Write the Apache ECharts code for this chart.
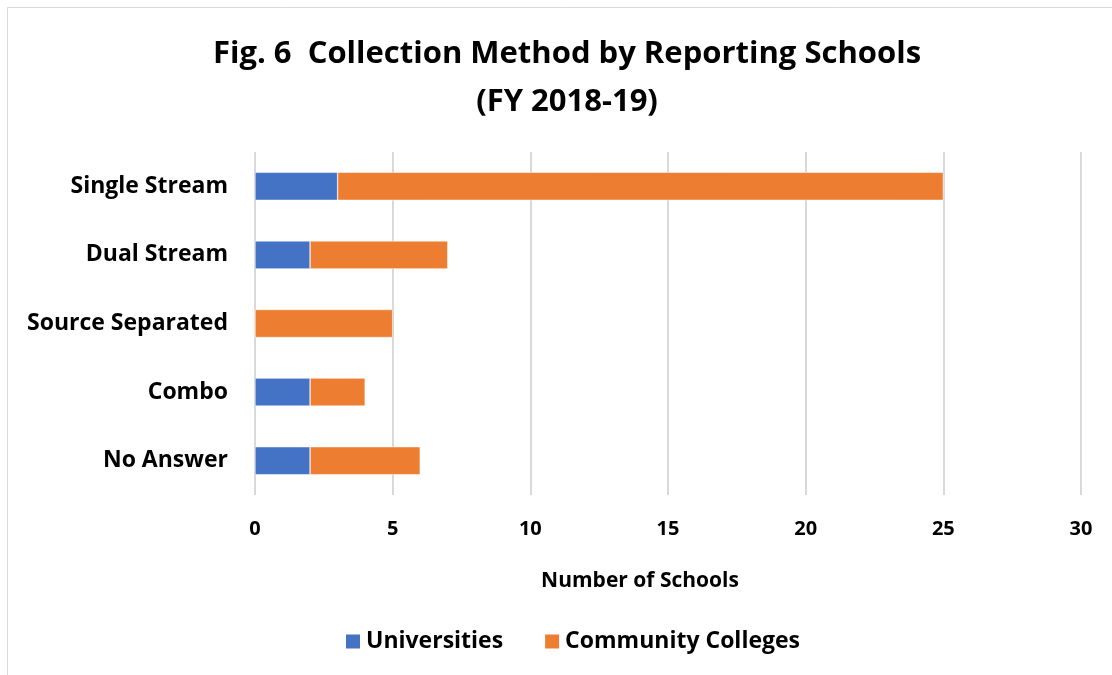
<!DOCTYPE html>
<html>
<head>
<meta charset="utf-8">
<script src="https://cdn.jsdelivr.net/npm/echarts@6/dist/echarts.min.js"></script>
<style>
    html, body { margin: 0; padding: 0; background: #fff; }
    #chart { width: 1112px; height: 675px; }
</style>
</head>
<body>
<div id="chart"></div>
<script>
    const categories = ['Single Stream', 'Dual Stream', 'Source Separated', 'Combo', 'No Answer'];
    const universities = [3, 2, 0, 2, 2];
    const communityColleges = [22, 5, 5, 2, 4];
    const xTicks = [0, 5, 10, 15, 20, 25, 30];

    const font = 'Open Sans';
    const myChart = echarts.init(document.getElementById('chart'));

    const option = {
        backgroundColor: '#fff',
        animation: false,
        title: {
            text: 'Fig. 6  Collection Method by Reporting Schools\n(FY 2018-19)',
            left: 562,
            top: 25,
            textAlign: 'center',
            textStyle: {
                fontFamily: font, fontWeight: 'bold', fontSize: 31,
                color: '#000', lineHeight: 48
            }
        },
        graphic: [{
            type: 'rect',
            shape: { x: 7.5, y: 7.5, width: 1200, height: 800 },
            style: { fill: 'none', stroke: '#d9d9d9', lineWidth: 1 },
            silent: true
        }],
        legend: {
            data: ['Universities', 'Community Colleges'],
            left: 339,
            top: 625,
            itemWidth: 16,
            itemHeight: 16,
            itemGap: 40,
            icon: 'rect',
            selectedMode: false,
            textStyle: { fontFamily: font, fontWeight: 'bold', fontSize: 23, color: '#000' }
        },
        grid: { left: 255, right: 31, top: 152, bottom: 180 },
        xAxis: {
            type: 'value',
            min: xTicks[0],
            max: xTicks[xTicks.length - 1],
            interval: 5,
            name: 'Number of Schools',
            nameLocation: 'middle',
            nameGap: 76,
            nameTextStyle: {
                fontFamily: font, fontWeight: 'bold', fontSize: 21, color: '#000',
                padding: [0, 56, 0, 0]
            },
            axisLine: { show: false },
            axisTick: { show: false },
            axisLabel: { margin: 24, fontFamily: font, fontWeight: 'bold', fontSize: 20, color: '#000' },
            splitLine: { lineStyle: { color: '#d9d9d9', width: 2 } }
        },
        yAxis: {
            type: 'category',
            data: categories,
            inverse: true,
            axisLine: { show: false },
            axisTick: { show: false },
            axisLabel: { margin: 27, fontFamily: font, fontWeight: 'bold', fontSize: 23, color: '#000' }
        },
        series: [
            {
                name: 'Universities',
                type: 'bar',
                stack: 'total',
                barWidth: 28,
                data: universities,
                itemStyle: { color: '#4472c4', borderColor: '#fff', borderWidth: 0.5 }
            },
            {
                name: 'Community Colleges',
                type: 'bar',
                stack: 'total',
                barWidth: 28,
                data: communityColleges,
                itemStyle: { color: '#ed7d31', borderColor: '#fff', borderWidth: 0.5 }
            }
        ]
    };

    myChart.setOption(option);
</script>
</body>
</html>
